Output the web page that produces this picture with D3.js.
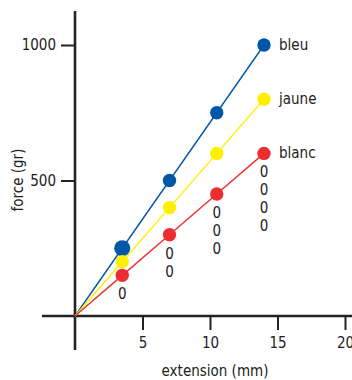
<!DOCTYPE html>
<html>
<head>
<meta charset="utf-8">
<script src="https://cdn.jsdelivr.net/npm/d3@7"></script>
<style>
  body { margin: 0; background: #fff; }
  svg { display: block; }
  text { font-family: "Liberation Sans Narrow", "Arial Narrow", "DejaVu Sans Condensed", sans-serif; font-stretch: condensed; fill: #222; }
</style>
</head>
<body>
<div id="chart"></div>
<script>
// data
const extension = [3.5, 7, 10.5, 14];
const seriesNames = ["bleu", "jaune", "blanc"];
const bleu = [250, 500, 750, 1000];
const jaune = [200, 400, 600, 800];
const blanc = [150, 300, 450, 600];
const zeroCounts = [1, 2, 3, 4];
const xTicks = [5, 10, 15, 20];
const yTicks = [500, 1000];

const colors = { bleu: "#0057a8", jaune: "#fff000", blanc: "#ec2e30" };
const values = { bleu, jaune, blanc };

function renderChart() {
    d3.select("#chart").selectAll("*").remove();

    const width = 352, height = 380;
    const fontSize = "15px";

    const svg = d3.select("#chart")
        .append("svg")
        .attr("width", width)
        .attr("height", height);

    const x = d3.scaleLinear().domain([0, 20]).range([75, 345]);
    const y = d3.scaleLinear().domain([0, 1000]).range([316, 45]);

    // axis lines, running past the origin
    svg.append("line")
        .attr("x1", 42).attr("x2", width)
        .attr("y1", y(0)).attr("y2", y(0))
        .attr("stroke", "#222").attr("stroke-width", 2.6);
    svg.append("line")
        .attr("x1", x(0)).attr("x2", x(0))
        .attr("y1", 11).attr("y2", 350)
        .attr("stroke", "#222").attr("stroke-width", 2.6);

    const xAxis = svg.append("g")
        .attr("transform", `translate(0,${y(0)})`)
        .call(d3.axisBottom(x).tickValues(xTicks).tickSize(14).tickPadding(7).tickFormat(d3.format("d")));
    const yAxis = svg.append("g")
        .attr("transform", `translate(${x(0)},0)`)
        .call(d3.axisLeft(y).tickValues(yTicks).tickSize(14).tickPadding(5).tickFormat(d3.format("d")));

    [xAxis, yAxis].forEach(g => {
        g.select(".domain").remove();
        g.selectAll(".tick line").attr("stroke", "#222").attr("stroke-width", 2);
        g.selectAll(".tick text").style("font-size", fontSize).attr("fill", "#222")
            .style("font-family", null);
    });

    // axis titles
    svg.append("text")
        .attr("x", 215).attr("y", 376)
        .attr("text-anchor", "middle")
        .style("font-size", fontSize)
        .text("extension (mm)");
    svg.append("text")
        .attr("transform", "translate(23,180) rotate(-90)")
        .attr("text-anchor", "middle")
        .style("font-size", fontSize)
        .text("force (gr)");

    const line = d3.line()
        .x(d => x(d[0]))
        .y(d => y(d[1]));

    seriesNames.forEach(name => {
        const pts = [[0, 0]].concat(extension.map((e, i) => [e, values[name][i]]));
        svg.append("path")
            .datum(pts)
            .attr("fill", "none")
            .attr("stroke", colors[name])
            .attr("stroke-width", 1.4)
            .attr("d", line);
    });

    seriesNames.forEach(name => {
        svg.selectAll(null)
            .data(extension)
            .enter().append("circle")
            .attr("cx", d => x(d))
            .attr("cy", (d, i) => y(values[name][i]))
            .attr("r", (d, i) => name === "bleu" && i === 0 ? 8 : 6.7)
            .attr("fill", colors[name]);

        const last = extension.length - 1;
        svg.append("text")
            .attr("x", x(extension[last]) + 15)
            .attr("y", y(values[name][last]) + 5)
            .style("font-size", fontSize)
            .text(name);
    });

    // stray "0" labels stacked under the blanc points
    extension.forEach((e, i) => {
        for (let k = 0; k < zeroCounts[i]; k++) {
            svg.append("text")
                .attr("x", x(e))
                .attr("y", y(blanc[i]) + 24 + k * 18)
                .attr("text-anchor", "middle")
                .style("font-size", fontSize)
                .text("0");
        }
    });
}

renderChart();
</script>
</body>
</html>
